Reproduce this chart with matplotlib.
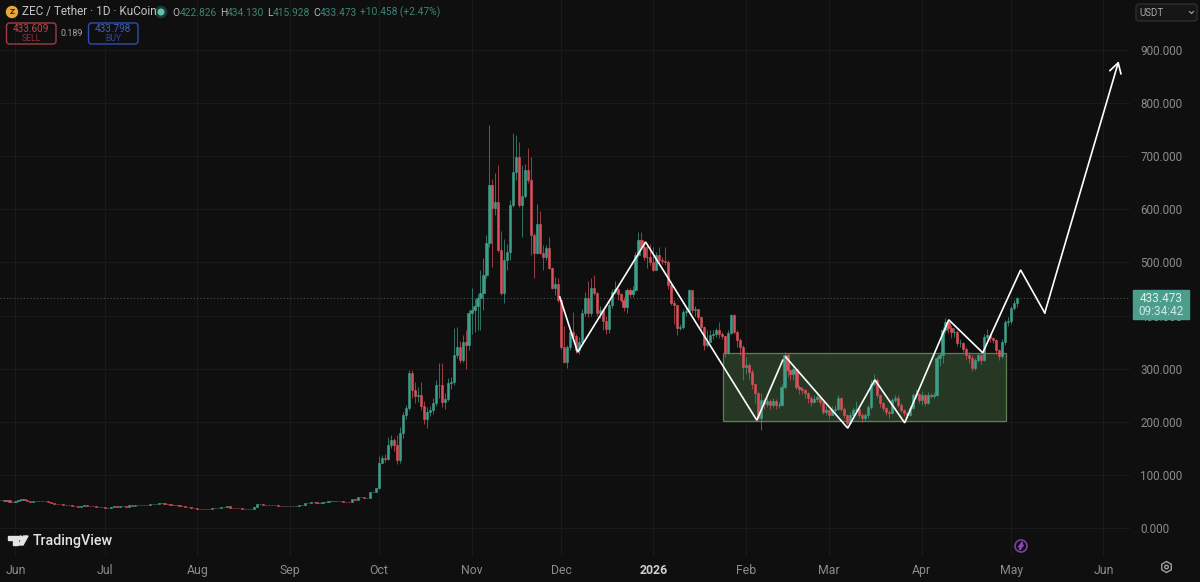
# ZEC/USDT daily chart, TradingView dark style

import numpy as np
import matplotlib
matplotlib.use("Agg")
import matplotlib.pyplot as plt
from matplotlib.patches import Rectangle, Circle, Polygon, FancyBboxPatch

plt.rcParams['font.family'] = ['Roboto', 'DejaVu Sans']

# flat stretch, bodies only, days counted from 1 Jun 2025 (starts at day -5)
flat_close = [
    52.5, 51.8, 52.4, 49.8, 49.4, 51.2, 52.6, 53.8, 53.2, 50.1,
    49.2, 50.0, 50.6, 50.2, 51.1, 50.3, 49.0, 47.4, 45.9, 45.3,
    44.8, 44.1, 43.2, 42.6, 41.7, 41.2, 39.8, 41.6, 42.9, 42.1,
    41.3, 40.6, 39.8, 39.6, 38.7, 37.9, 38.3, 39.6, 41.2, 40.5,
    40.8, 41.0, 40.2, 43.1, 42.2, 42.6, 43.4, 43.8, 44.1, 43.7,
    44.9, 45.6, 46.1, 46.6, 46.3, 45.5, 44.6, 43.8, 42.5, 42.9,
    41.9, 41.2, 40.1, 39.3, 38.0, 37.2, 36.1, 35.4, 35.9, 36.2,
    36.6, 37.4, 37.2, 37.9, 39.0, 39.8, 40.6, 38.6, 38.0, 37.6,
    36.9, 36.4, 36.0, 35.2, 35.6, 40.3, 44.9, 45.4, 44.1, 42.4,
    42.9, 43.3, 42.5, 41.9, 41.5, 41.1, 41.4, 41.2, 41.8, 42.2,
    42.7, 43.0, 47.5, 47.8, 48.6, 48.2, 47.7, 47.2, 48.4, 49.5,
    50.7, 51.4, 51.0, 50.6, 50.1, 49.8, 49.3, 48.9, 54.4, 53.1,
    57.6, 58.1, 56.7, 56.4, 67.8, 68.4, 74.6,
]

# from 1 Oct 2025 (day 122) on
close = [
    122, 132, 130, 156, 166, 156, 128, 179, 213, 226,
    292, 260, 249, 250, 230, 205, 218, 222, 235, 269,
    269, 237, 243, 273, 275, 326, 341, 316, 350, 345,
    404, 410, 418, 433, 443, 476, 537, 646, 602, 613,
    523, 442, 505, 520, 608, 670, 699, 608, 625, 674,
    655, 552, 517, 572, 518, 510, 527, 490, 452, 459,
    429, 341, 312, 341, 369, 362, 335, 350, 404, 433,
    404, 451, 442, 404, 410, 390, 375, 420, 444, 450,
    440, 430, 416, 448, 440, 448, 514, 542, 530, 510,
    510, 501, 486, 514, 505, 503, 500, 457, 424, 420,
    376, 379, 407, 408, 448, 410, 413, 397, 379, 345,
    350, 363, 366, 372, 365, 361, 330, 368, 401, 369,
    354, 341, 304, 307, 294, 272, 254, 207, 241, 234,
    240, 231, 240, 232, 232, 266, 325, 297, 290, 300,
    266, 261, 260, 254, 244, 238, 243, 247, 238, 219,
    222, 213, 222, 225, 244, 225, 213, 197, 213, 222,
    225, 213, 208, 212, 228, 272, 279, 250, 235, 226,
    219, 216, 241, 244, 232, 222, 216, 213, 226, 250,
    253, 241, 250, 235, 251, 248, 250, 320, 326, 373,
    388, 377, 370, 370, 348, 348, 338, 326, 320, 301,
    316, 326, 317, 360, 363, 357, 354, 335, 323, 350,
    388, 390, 414, 422.826, 433.473,
]
high = [
    135, 137, 140, 172, 175, 170, 175, 190, 218, 232,
    297, 298, 275, 265, 275, 240, 228, 230, 245, 278,
    310, 310, 255, 283, 285, 376, 378, 352, 363, 372,
    410, 452, 432, 440, 486, 508, 552, 759, 658, 668,
    683, 560, 545, 535, 618, 743, 740, 727, 683, 686,
    715, 699, 555, 611, 596, 532, 532, 548, 492, 472,
    470, 430, 380, 345, 372, 407, 365, 360, 412, 445,
    466, 470, 476, 445, 418, 415, 400, 428, 450, 465,
    452, 443, 435, 452, 452, 455, 520, 558, 558, 540,
    535, 535, 530, 520, 530, 510, 530, 505, 462, 430,
    420, 385, 412, 418, 450, 448, 418, 412, 398, 380,
    372, 372, 372, 376, 388, 370, 362, 372, 403, 403,
    372, 358, 345, 322, 310, 300, 272, 256, 254, 245,
    245, 242, 245, 242, 238, 272, 332, 330, 300, 305,
    300, 270, 265, 262, 256, 248, 250, 252, 250, 240,
    230, 225, 230, 232, 250, 247, 228, 215, 218, 228,
    240, 228, 216, 216, 232, 278, 290, 282, 252, 238,
    228, 222, 244, 250, 250, 235, 224, 218, 230, 254,
    262, 255, 258, 252, 256, 254, 256, 324, 332, 378,
    395, 390, 382, 376, 372, 356, 350, 340, 332, 325,
    320, 330, 330, 365, 375, 366, 360, 356, 338, 355,
    392, 398, 418, 430, 434.13,
]
low = [
    74, 125, 125, 128, 150, 145, 120, 122, 170, 205,
    222, 245, 235, 238, 222, 195, 188, 210, 215, 230,
    245, 228, 225, 240, 262, 270, 320, 310, 312, 300,
    335, 366, 370, 372, 373, 410, 470, 530, 492, 590,
    520, 438, 423, 486, 505, 605, 655, 605, 548, 622,
    650, 514, 470, 515, 515, 486, 505, 488, 450, 439,
    426, 338, 310, 302, 335, 355, 329, 328, 345, 400,
    398, 400, 438, 400, 395, 372, 365, 368, 415, 440,
    430, 425, 408, 405, 435, 435, 446, 510, 525, 505,
    490, 495, 483, 485, 498, 498, 495, 450, 420, 385,
    363, 372, 375, 400, 405, 405, 400, 392, 375, 335,
    340, 350, 356, 360, 358, 355, 322, 328, 365, 365,
    340, 325, 278, 290, 280, 262, 235, 203, 185, 225,
    228, 225, 228, 225, 226, 230, 262, 285, 278, 278,
    262, 252, 252, 245, 236, 230, 236, 238, 230, 215,
    212, 205, 212, 218, 222, 220, 208, 193, 195, 210,
    218, 208, 200, 202, 208, 225, 268, 245, 228, 220,
    212, 208, 214, 238, 228, 218, 210, 208, 210, 224,
    245, 236, 232, 230, 233, 244, 244, 248, 305, 310,
    368, 368, 358, 360, 342, 340, 332, 318, 310, 296,
    298, 312, 308, 315, 350, 350, 348, 328, 316, 320,
    345, 380, 385, 410, 415.928,
]

# drawings (day, price)
zig_days = [182.6, 188.6, 211.4, 248.7, 257.4]
zig_prices = [435, 331, 538.5, 203, 316]
zag_days = [258.4, 279.2, 288.3, 298.3, 313.1, 324.5, 337.2, 345.3, 370.1]
zag_prices = [322, 188, 279, 198, 392, 330, 486, 405, 879]
box_days = [237.3, 332.3]
box_prices = [201.5, 329.5]

price_ticks = [0, 100, 200, 300, 400, 500, 600, 700, 800, 900]
month_days = [0, 30, 61, 92, 122, 153, 183, 214, 245, 273, 304, 334, 365]
month_labels = ['Jun', 'Jul', 'Aug', 'Sep', 'Oct', 'Nov', 'Dec', '2026', 'Feb', 'Mar', 'Apr', 'May', 'Jun']

BG = '#0f0f0f'
UP = '#3f9e8a'
DOWN = '#d8505a'
GRID = '#1a1a1a'
LABEL = '#8c8c8c'

W, H = 1200, 582
fig = plt.figure(figsize=(W / 100, H / 100), dpi=100, facecolor=BG)
ax = fig.add_axes([0, (H - 556) / H, 1130 / W, 556 / H], facecolor=BG)
ax.set_xlim(-5.2, 373.9)
ax.set_ylim(-52.7, 994.2)

closes = np.array(flat_close + close, dtype=float)
days = np.arange(len(closes)) - 5
opens = np.r_[closes[0], closes[:-1]]
highs = np.r_[np.maximum(opens, closes)[:len(flat_close)], high]
lows = np.r_[np.minimum(opens, closes)[:len(flat_close)], low]
colors = np.where(closes >= opens, UP, DOWN)

ax.add_patch(Rectangle((box_days[0], box_prices[0]), box_days[1] - box_days[0], box_prices[1] - box_prices[0],
                       facecolor='#263823', edgecolor='#5f7f52', lw=0.9, zorder=1))
ax.vlines(days, lows, highs, colors=colors, lw=0.7, alpha=0.7, zorder=2)
ax.bar(days, closes - opens, bottom=opens, width=0.72, color=colors, edgecolor=colors, lw=0.4, zorder=3)

ax.axhline(closes[-1], color='#3d5a52', lw=0.8, ls=(0, (1, 2)), zorder=1)
ax.plot(zig_days, zig_prices, color='white', lw=1.2, zorder=4, solid_joinstyle='miter')
ax.plot(zag_days[:-1], zag_prices[:-1], color='white', lw=1.2, zorder=4, solid_joinstyle='miter')
ax.annotate('', xy=(zag_days[-1], zag_prices[-1]), xytext=(zag_days[-2], zag_prices[-2]),
            arrowprops=dict(arrowstyle='->,head_length=0.72,head_width=0.42', color='white', lw=1.2,
                            shrinkA=0, shrinkB=0), zorder=4)

ax.set_yticks(price_ticks)
ax.set_yticklabels(['%.3f' % p for p in price_ticks])
ax.set_xticks(month_days)
ax.set_xticklabels(month_labels)
ax.yaxis.tick_right()
ax.tick_params(axis='y', length=0, pad=7.5, labelsize=8.4, labelcolor=LABEL)
ax.tick_params(axis='x', length=0, pad=5.5, labelsize=8.8, labelcolor=LABEL)
ax.get_xticklabels()[7].set_fontweight('bold')
ax.get_xticklabels()[7].set_color('#d0d0d0')
ax.grid(True, color=GRID, lw=0.8)
ax.set_axisbelow(True)
for s in ax.spines.values():
    s.set_visible(False)

# chrome, in pixels
ui = fig.add_axes([0, 0, 1, 1], facecolor='none')
ui.set_xlim(0, W)
ui.set_ylim(H, 0)
ui.axis('off')


def txt(x, y, s, color='#c8c8c8', size=8.5, ha='left', **kw):
    ui.text(x, y, s, color=color, fontsize=size, ha=ha, va='center', **kw)


ui.add_patch(Circle((12, 12), 5.5, color='#e6a83c'))
txt(12, 12, 'Z', color='#2a2006', size=6, ha='center', fontweight='bold')
txt(22, 12, 'ZEC / Tether · 1D · KuCoin', size=8.5, color='#c4c4c4')
ui.add_patch(Circle((161, 12), 5.5, color='#1c3a35'))
ui.add_patch(Circle((161, 12), 2.8, color='#5fc4ac'))

GREEN = '#3c8576'
for x, s, col in [(172, 'O', '#b8b8b8'), (179.5, '422.826', GREEN), (220, 'H', '#b8b8b8'), (227, '434.130', GREEN),
                  (267, 'L', '#b8b8b8'), (273, '415.928', GREEN), (313, 'C', '#b8b8b8'), (320, '433.473', GREEN),
                  (360, '+10.458 (+2.47%)', GREEN)]:
    txt(x, 12.5, s, color=col, size=7.4)

ui.add_patch(FancyBboxPatch((6.5, 23), 49.5, 21, boxstyle='round,pad=0,rounding_size=3', fc='none', ec='#a23c45', lw=1.0))
txt(31, 29.5, '433.609', color='#c5434d', size=7.2, ha='center')
txt(31, 38.5, 'SELL', color='#8a333a', size=6.2, ha='center')
txt(72, 34, '0.189', color='#a8a8a8', size=6.4, ha='center')
ui.add_patch(FancyBboxPatch((88.5, 23), 49.5, 21, boxstyle='round,pad=0,rounding_size=3', fc='none', ec='#2f4db0', lw=1.0))
txt(113, 29.5, '433.798', color='#3f5fc8', size=7.2, ha='center')
txt(113, 38.5, 'BUY', color='#2f459a', size=6.2, ha='center')

ui.add_patch(FancyBboxPatch((1136, 4), 61, 17, boxstyle='round,pad=0,rounding_size=3', fc='#161616', ec='#2e2e2e', lw=1.0))
txt(1139, 12.5, 'USDT', color='#a8a8a8', size=7)
ui.plot([1189.5, 1191.5, 1193.5], [11.5, 13.5, 11.5], color='#a8a8a8', lw=0.8)

ui.add_patch(Rectangle((1133, 290), 56, 29, color='#4a9e8b', zorder=5))
ui.text(1161, 298.5, '%.3f' % closes[-1], color='#e2f2ee', fontsize=8.5, ha='center', va='center', zorder=6)
ui.text(1161, 311.5, '09:34:42', color='#cfe8e2', fontsize=8.5, ha='center', va='center', zorder=6)

ui.add_patch(Polygon([(8, 536), (17.5, 536), (17.5, 545), (13, 545), (13, 540), (8, 540)], color='#e4e4e4'))
ui.add_patch(Circle((20.5, 538), 1.9, color='#e4e4e4'))
ui.add_patch(Polygon([(23.5, 536), (28, 536), (23, 545), (18.5, 545)], color='#e4e4e4'))
txt(33, 541, 'TradingView', color='#e4e4e4', size=10.3, fontweight='medium')

ui.add_patch(Circle((1021, 546), 6, fc='none', ec='#7c3f9f', lw=1.2))
ui.add_patch(Polygon([(1022.5, 542), (1018.5, 547), (1021, 547), (1019.5, 550), (1023.5, 545), (1021, 545)], color='#8f4bb5'))

ang = np.deg2rad(np.arange(30, 390, 60))
ui.add_patch(Polygon(np.c_[1166.5 + 5.5 * np.cos(ang), 567 + 5.5 * np.sin(ang)], fc='none', ec='#a0a0a0', lw=1.0))
ui.add_patch(Circle((1166.5, 567), 1.8, fc='none', ec='#a0a0a0', lw=1.0))

fig.savefig('out.png', dpi=100, facecolor=BG)
